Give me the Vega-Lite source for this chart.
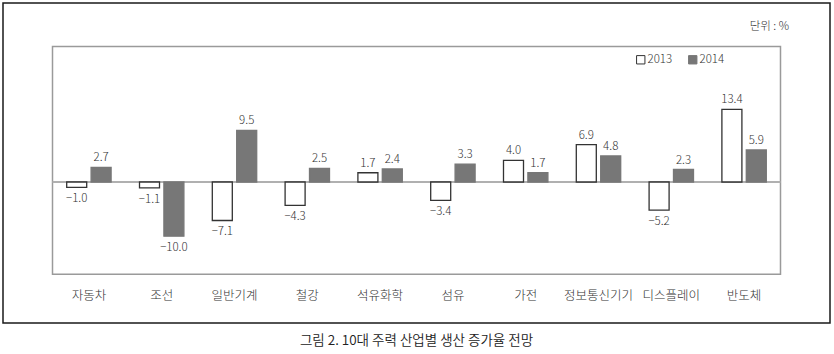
{
  "$schema": "https://vega.github.io/schema/vega-lite/v6.json",
  "autosize": {"type": "none"},
  "padding": {"left": 3, "top": 3, "right": 4, "bottom": 31},
  "width": 827,
  "height": 320,
  "background": "white",
  "config": {
    "view": {"stroke": "#1a1a1a", "strokeWidth": 1.5},
    "font": "Noto Sans CJK KR",
    "text": {"font": "Noto Sans CJK KR", "fontWeight": 300}
  },
  "title": {
    "text": "그림 2. 10대 주력 산업별 생산 증가율 전망",
    "orient": "bottom",
    "anchor": "middle",
    "fontSize": 13.5,
    "fontWeight": 350,
    "color": "#222",
    "font": "Noto Sans CJK KR",
    "offset": 11
  },
  "datasets": {
    "growth": [
      {"industry": "자동차", "year": "2013", "v": -1.0},
      {"industry": "자동차", "year": "2014", "v": 2.7},
      {"industry": "조선", "year": "2013", "v": -1.1},
      {"industry": "조선", "year": "2014", "v": -10.0},
      {"industry": "일반기계", "year": "2013", "v": -7.1},
      {"industry": "일반기계", "year": "2014", "v": 9.5},
      {"industry": "철강", "year": "2013", "v": -4.3},
      {"industry": "철강", "year": "2014", "v": 2.5},
      {"industry": "석유화학", "year": "2013", "v": 1.7},
      {"industry": "석유화학", "year": "2014", "v": 2.4},
      {"industry": "섬유", "year": "2013", "v": -3.4},
      {"industry": "섬유", "year": "2014", "v": 3.3},
      {"industry": "가전", "year": "2013", "v": 4.0},
      {"industry": "가전", "year": "2014", "v": 1.7},
      {"industry": "정보통신기기", "year": "2013", "v": 6.9},
      {"industry": "정보통신기기", "year": "2014", "v": 4.8},
      {"industry": "디스플레이", "year": "2013", "v": -5.2},
      {"industry": "디스플레이", "year": "2014", "v": 2.3},
      {"industry": "반도체", "year": "2013", "v": 13.4},
      {"industry": "반도체", "year": "2014", "v": 5.9}
    ],
    "frame": [{"a": "자동차", "b": "반도체"}],
    "cats": [
      {"industry": "자동차"}, {"industry": "조선"}, {"industry": "일반기계"}, {"industry": "철강"}, {"industry": "석유화학"},
      {"industry": "섬유"}, {"industry": "가전"}, {"industry": "정보통신기기"}, {"industry": "디스플레이"}, {"industry": "반도체"}
    ]
  },
  "resolve": {"scale": {"x": "shared", "y": "shared"}},
  "layer": [
    {
      "data": {"name": "frame"},
      "mark": {"type": "rect", "fill": null, "stroke": "#9a9a9a", "strokeWidth": 1.5},
      "encoding": {
        "x": {"field": "a", "type": "nominal", "bandPosition": 0,
              "scale": {"domain": ["자동차", "조선", "일반기계", "철강", "석유화학", "섬유", "가전", "정보통신기기", "디스플레이", "반도체"], "paddingInner": 0, "paddingOuter": 0.68},
              "axis": null},
        "x2": {"field": "b", "bandPosition": 1},
        "y": {"datum": -17, "type": "quantitative", "scale": {"domain": [-26, 33], "zero": false, "nice": false}, "axis": null},
        "y2": {"datum": 25}
      }
    },
    {
      "data": {"name": "frame"},
      "mark": {"type": "rule", "stroke": "#b0b0b0", "strokeWidth": 2},
      "encoding": {
        "x": {"field": "a", "type": "nominal", "bandPosition": 0},
        "x2": {"field": "b", "bandPosition": 1},
        "y": {"datum": 0, "type": "quantitative"}
      }
    },
    {
      "data": {"name": "growth"},
      "mark": {"type": "bar", "strokeWidth": 1.3},
      "encoding": {
        "x": {"field": "industry", "type": "nominal", "sort": null},
        "xOffset": {"field": "year", "type": "nominal", "scale": {"paddingInner": 0.18, "paddingOuter": 0.582}},
        "y": {"field": "v", "type": "quantitative"},
        "y2": {"datum": 0},
        "fill": {"field": "year", "type": "nominal",
                 "scale": {"domain": ["2013", "2014"], "range": ["#ffffff", "#777777"]},
                 "legend": {"title": null, "orient": "none", "legendX": 632, "legendY": 51, "direction": "horizontal",
                            "symbolType": "square", "symbolSize": 70, "symbolStrokeWidth": 1,
                            "labelFont": "Noto Sans CJK KR", "labelFontWeight": 300, "labelFontSize": 11.5, "labelColor": "#333",
                            "labelOffset": 1, "columnPadding": 13}},
        "stroke": {"field": "year", "type": "nominal",
                   "scale": {"domain": ["2013", "2014"], "range": ["#333333", "#777777"]}}
      }
    },
    {
      "data": {"name": "growth"},
      "transform": [{"filter": "datum.v >= 0"}],
      "mark": {"type": "text", "baseline": "bottom", "dy": -4, "fontSize": 11.5, "fill": "#333"},
      "encoding": {
        "x": {"field": "industry", "type": "nominal", "sort": null},
        "xOffset": {"field": "year", "type": "nominal"},
        "y": {"field": "v", "type": "quantitative"},
        "text": {"field": "v", "type": "quantitative", "format": ".1f"}
      }
    },
    {
      "data": {"name": "growth"},
      "transform": [{"filter": "datum.v < 0"}],
      "mark": {"type": "text", "baseline": "top", "dy": 6, "fontSize": 11.5, "fill": "#333"},
      "encoding": {
        "x": {"field": "industry", "type": "nominal", "sort": null},
        "xOffset": {"field": "year", "type": "nominal"},
        "y": {"field": "v", "type": "quantitative"},
        "text": {"field": "v", "type": "quantitative", "format": ".1f"}
      }
    },
    {
      "data": {"name": "cats"},
      "mark": {"type": "text", "baseline": "middle", "fontSize": 12.5, "fill": "#333"},
      "encoding": {
        "x": {"field": "industry", "type": "nominal", "sort": null},
        "y": {"datum": -21, "type": "quantitative"},
        "text": {"field": "industry"}
      }
    },
    {
      "data": {"name": "frame"},
      "mark": {"type": "text", "baseline": "middle", "align": "right", "dx": 45, "fontSize": 11.5, "fill": "#333"},
      "encoding": {
        "x": {"field": "b", "type": "nominal"},
        "y": {"datum": 28.6, "type": "quantitative"},
        "text": {"value": "단위 : %"}
      }
    }
  ]
}
